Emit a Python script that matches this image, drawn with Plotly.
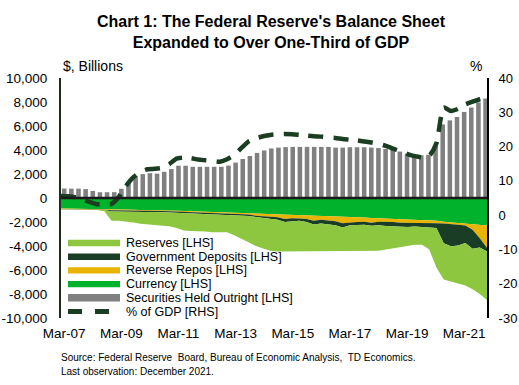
import plotly.graph_objects as go

# ---------------- data (quarterly, Mar-07 .. Dec-21) ----------------
months = ["Mar", "Jun", "Sep", "Dec"]
quarters = [f"{m}-{y:02d}" for y in range(7, 22) for m in months]

securities = [790, 780, 780, 740, 590, 480, 480, 490, 770, 1240, 1800, 1990,
              2070, 2030, 2180, 2410, 2690, 2690, 2600, 2600, 2600, 2600, 2600, 2700,
              2950, 3250, 3500, 3760, 3960, 4130, 4200, 4240, 4260, 4260, 4260, 4260,
              4260, 4260, 4200, 4200, 4230, 4230, 4230, 4200, 4170, 4090, 4010, 3870,
              3700, 3620, 3560, 3600, 4370, 6130, 6470, 6750, 7170, 7540, 7960, 8290]

currency = [-880, -885, -890, -900, -900, -910, -920, -950, -960, -970, -980, -1000,
            -1000, -1010, -1030, -1050, -1060, -1080, -1100, -1120, -1140, -1160, -1180, -1200,
            -1210, -1230, -1250, -1270, -1290, -1310, -1330, -1360, -1380, -1400, -1420, -1450,
            -1470, -1500, -1530, -1560, -1580, -1610, -1630, -1660, -1680, -1700, -1730, -1760,
            -1780, -1800, -1830, -1860, -1900, -1980, -2040, -2100, -2150, -2200, -2250, -2300]

reverse_repos = [-40, -40, -40, -45, -50, -50, -60, -80, -70, -70, -70, -60,
                 -60, -60, -60, -60, -70, -70, -80, -90, -90, -90, -90, -100,
                 -100, -100, -120, -200, -230, -250, -280, -400, -300, -300, -320, -450,
                 -350, -380, -400, -550, -450, -400, -350, -400, -300, -280, -280, -300,
                 -280, -270, -260, -250, -200, -150, -120, -120, -150, -450, -1100, -1870]

gov_deposits = [-20, -20, -20, -20, -20, -20, -30, -100, -100, -100, -100, -100,
                -100, -100, -100, -100, -100, -100, -100, -100, -100, -100, -100, -100,
                -100, -100, -120, -120, -150, -150, -200, -250, -250, -200, -250, -300,
                -300, -300, -350, -350, -250, -250, -250, -250, -300, -350, -350, -350,
                -350, -300, -300, -350, -400, -1650, -1870, -1730, -1450, -1580, -770, -280]

reserves = [-15, -15, -15, -15, -15, -15, -100, -770, -770, -810, -900, -990,
            -1040, -1080, -1060, -1140, -1270, -1450, -1470, -1440, -1470, -1500, -1480, -1450,
            -1690, -1970, -2230, -2410, -2530, -2690, -2640, -2440, -2520, -2550, -2460, -2250,
            -2330, -2270, -2170, -1990, -2170, -2190, -2220, -2140, -2120, -1970, -1840, -1690,
            -1590, -1530, -1510, -1840, -3300, -3020, -2920, -3150, -3550, -3370, -3880, -4050]

pct_gdp = [5.6, 5.5, 5.2, 4.6, 3.8, 3.2, 3.2, 3.3, 5.3, 8.5, 11.0, 12.6,
           13.4, 13.5, 13.8, 14.9, 16.5, 16.8, 16.6, 16.2, 16.0, 15.8, 15.6, 16.3,
           17.6, 19.6, 21.5, 22.4, 23.0, 23.4, 23.6, 23.7, 23.6, 23.4, 23.2, 23.0,
           22.9, 22.7, 22.5, 22.2, 22.0, 21.8, 21.5, 21.2, 20.8, 20.2, 19.4, 18.6,
           17.8, 17.2, 16.9, 17.3, 21.0, 31.4, 30.4, 31.0, 32.3, 33.1, 33.8, 34.3]

x_ticks = ["Mar-07", "Mar-09", "Mar-11", "Mar-13", "Mar-15", "Mar-17", "Mar-19", "Mar-21"]
lhs_ticks = [-10000, -8000, -6000, -4000, -2000, 0, 2000, 4000, 6000, 8000, 10000]
lhs_labels = ["-10,000", "-8,000", "-6,000", "-4,000", "-2,000", "0",
              "2,000", "4,000", "6,000", "8,000", "10,000"]
rhs_ticks = [-30, -20, -10, 0, 10, 20, 30, 40]
rhs_labels = ["-30", "-20", "-10", "0", "10", "20", "30", "40"]

# ---------------- styling ----------------
FONT = "Liberation Sans, Arial, sans-serif"
C_RES = "#8dc63f"
C_GOV = "#1a3d26"
C_RR = "#e8b400"
C_CUR = "#00b22c"
C_SEC = "#808080"
C_LINE = "#1b3d22"
NOTICK = "rgba(0,0,0,0)"

W, H = 519, 385
ML, MR, MT, MB = 61, 32, 78, 67
PW, PH = W - ML - MR, H - MT - MB


def px(xp):
    return (xp - ML) / PW


def py(yp):
    return (H - MB - yp) / PH


fig = go.Figure()

# stacked liability areas (stacking downward from zero)
for name, vals, col in [("Currency [LHS]", currency, C_CUR),
                        ("Reverse Repos [LHS]", reverse_repos, C_RR),
                        ("Government Deposits [LHS]", gov_deposits, C_GOV),
                        ("Reserves [LHS]", reserves, C_RES)]:
    fig.add_trace(go.Scatter(x=quarters, y=vals, name=name, stackgroup="liab",
                             mode="lines", line=dict(width=0, color=col),
                             fillcolor=col, xaxis="x2", yaxis="y",
                             showlegend=False, hoverinfo="skip"))

fig.add_trace(go.Bar(x=quarters, y=securities, name="Securities Held Outright [LHS]",
                     marker=dict(color=C_SEC, line=dict(width=0)),
                     xaxis="x", yaxis="y", showlegend=False))

fig.add_trace(go.Scatter(x=quarters, y=pct_gdp, name="% of GDP [RHS]", mode="lines",
                         line=dict(color=C_LINE, width=4.5, dash="15px,10px",
                                   shape="spline", smoothing=0.6),
                         xaxis="x2", yaxis="y2", showlegend=False))

fig.update_layout(
    width=W, height=H,
    margin=dict(l=ML, r=MR, t=MT, b=MB, autoexpand=False),
    paper_bgcolor="white", plot_bgcolor="white",
    font=dict(family=FONT, size=13.5, color="black"),
    bargap=0.36,
    showlegend=False,
    title=dict(text="<b>Chart 1: The Federal Reserve's Balance Sheet<br>Expanded to Over One-Third of GDP</b>",
               font=dict(family=FONT, size=16, color="black"),
               x=271 / W, xanchor="center", xref="container",
               y=1 - 27 / H, yanchor="middle", yref="container"),
    xaxis=dict(type="category", categoryorder="array", categoryarray=quarters,
               range=[-0.45, 59.2], tickvals=x_ticks, ticktext=x_ticks,
               showline=False, showgrid=False, zeroline=False,
               ticks="outside", ticklen=3, tickcolor=NOTICK,
               tickfont=dict(size=13.5), automargin=False),
    xaxis2=dict(type="category", categoryorder="array", categoryarray=quarters,
                range=[0, 59], overlaying="x", visible=False),
    yaxis=dict(range=[-10000, 10000], tickvals=lhs_ticks, ticktext=lhs_labels,
               showline=True, linecolor="#1e2b1e", linewidth=2, showgrid=False,
               zeroline=False, ticks="outside", ticklen=9, tickcolor=NOTICK,
               tickfont=dict(size=13.5), automargin=False),
    yaxis2=dict(range=[-30, 40], tickvals=rhs_ticks, ticktext=rhs_labels,
                overlaying="y", side="right", anchor="x",
                showline=True, linecolor="black", linewidth=2, showgrid=False,
                zeroline=False, ticks="outside", ticklen=7, tickcolor=NOTICK,
                tickfont=dict(size=13), automargin=False),
)

shapes = [dict(type="line", xref="paper", yref="y", x0=0, x1=1, y0=0, y1=0,
               line=dict(color="#1a1a1a", width=2.5), layer="above")]
annotations = [
    dict(text="$, Billions", xref="paper", yref="paper", x=0, y=py(66),
         xanchor="left", yanchor="middle", showarrow=False, font=dict(size=14)),
    dict(text="%", xref="paper", yref="paper", x=px(476), y=py(66),
         xanchor="center", yanchor="middle", showarrow=False, font=dict(size=14)),
    dict(text="Source: Federal Reserve  Board, Bureau of Economic Analysis,  TD Economics.",
         xref="paper", yref="paper", x=px(59), y=py(357), xanchor="left", yanchor="middle",
         showarrow=False, font=dict(size=10)),
    dict(text="Last observation: December 2021.",
         xref="paper", yref="paper", x=px(59), y=py(371), xanchor="left", yanchor="middle",
         showarrow=False, font=dict(size=10)),
]

# custom legend (inside plot, lower left)
legend_items = [("Reserves [LHS]", C_RES, "box"),
                ("Government Deposits [LHS]", C_GOV, "box"),
                ("Reverse Repos [LHS]", C_RR, "box"),
                ("Currency [LHS]", C_CUR, "box"),
                ("Securities Held Outright [LHS]", C_SEC, "box"),
                ("% of GDP [RHS]", C_LINE, "dash")]
row0, step = 243, 13.7
for k, (lab, col, kind) in enumerate(legend_items):
    yc = row0 + k * step
    if kind == "box":
        hh = 3.8 if lab.startswith("Securities") else 3.2
        shapes.append(dict(type="rect", xref="paper", yref="paper",
                           x0=px(68), x1=px(120), y0=py(yc + hh), y1=py(yc - hh),
                           fillcolor=col, line=dict(width=0), layer="above"))
    else:
        for a, b in [(68, 82), (95, 109)]:
            shapes.append(dict(type="line", xref="paper", yref="paper",
                               x0=px(a), x1=px(b), y0=py(yc), y1=py(yc),
                               line=dict(color=col, width=5), layer="above"))
    annotations.append(dict(text=lab, xref="paper", yref="paper", x=px(124), y=py(yc),
                            xanchor="left", yanchor="middle", showarrow=False,
                            font=dict(size=12.5, color="black")))

fig.update_layout(shapes=shapes, annotations=annotations)

fig.write_html("out.html", config={"displayModeBar": False},
               post_script="document.body.style.margin='0';document.body.style.padding='0';")
